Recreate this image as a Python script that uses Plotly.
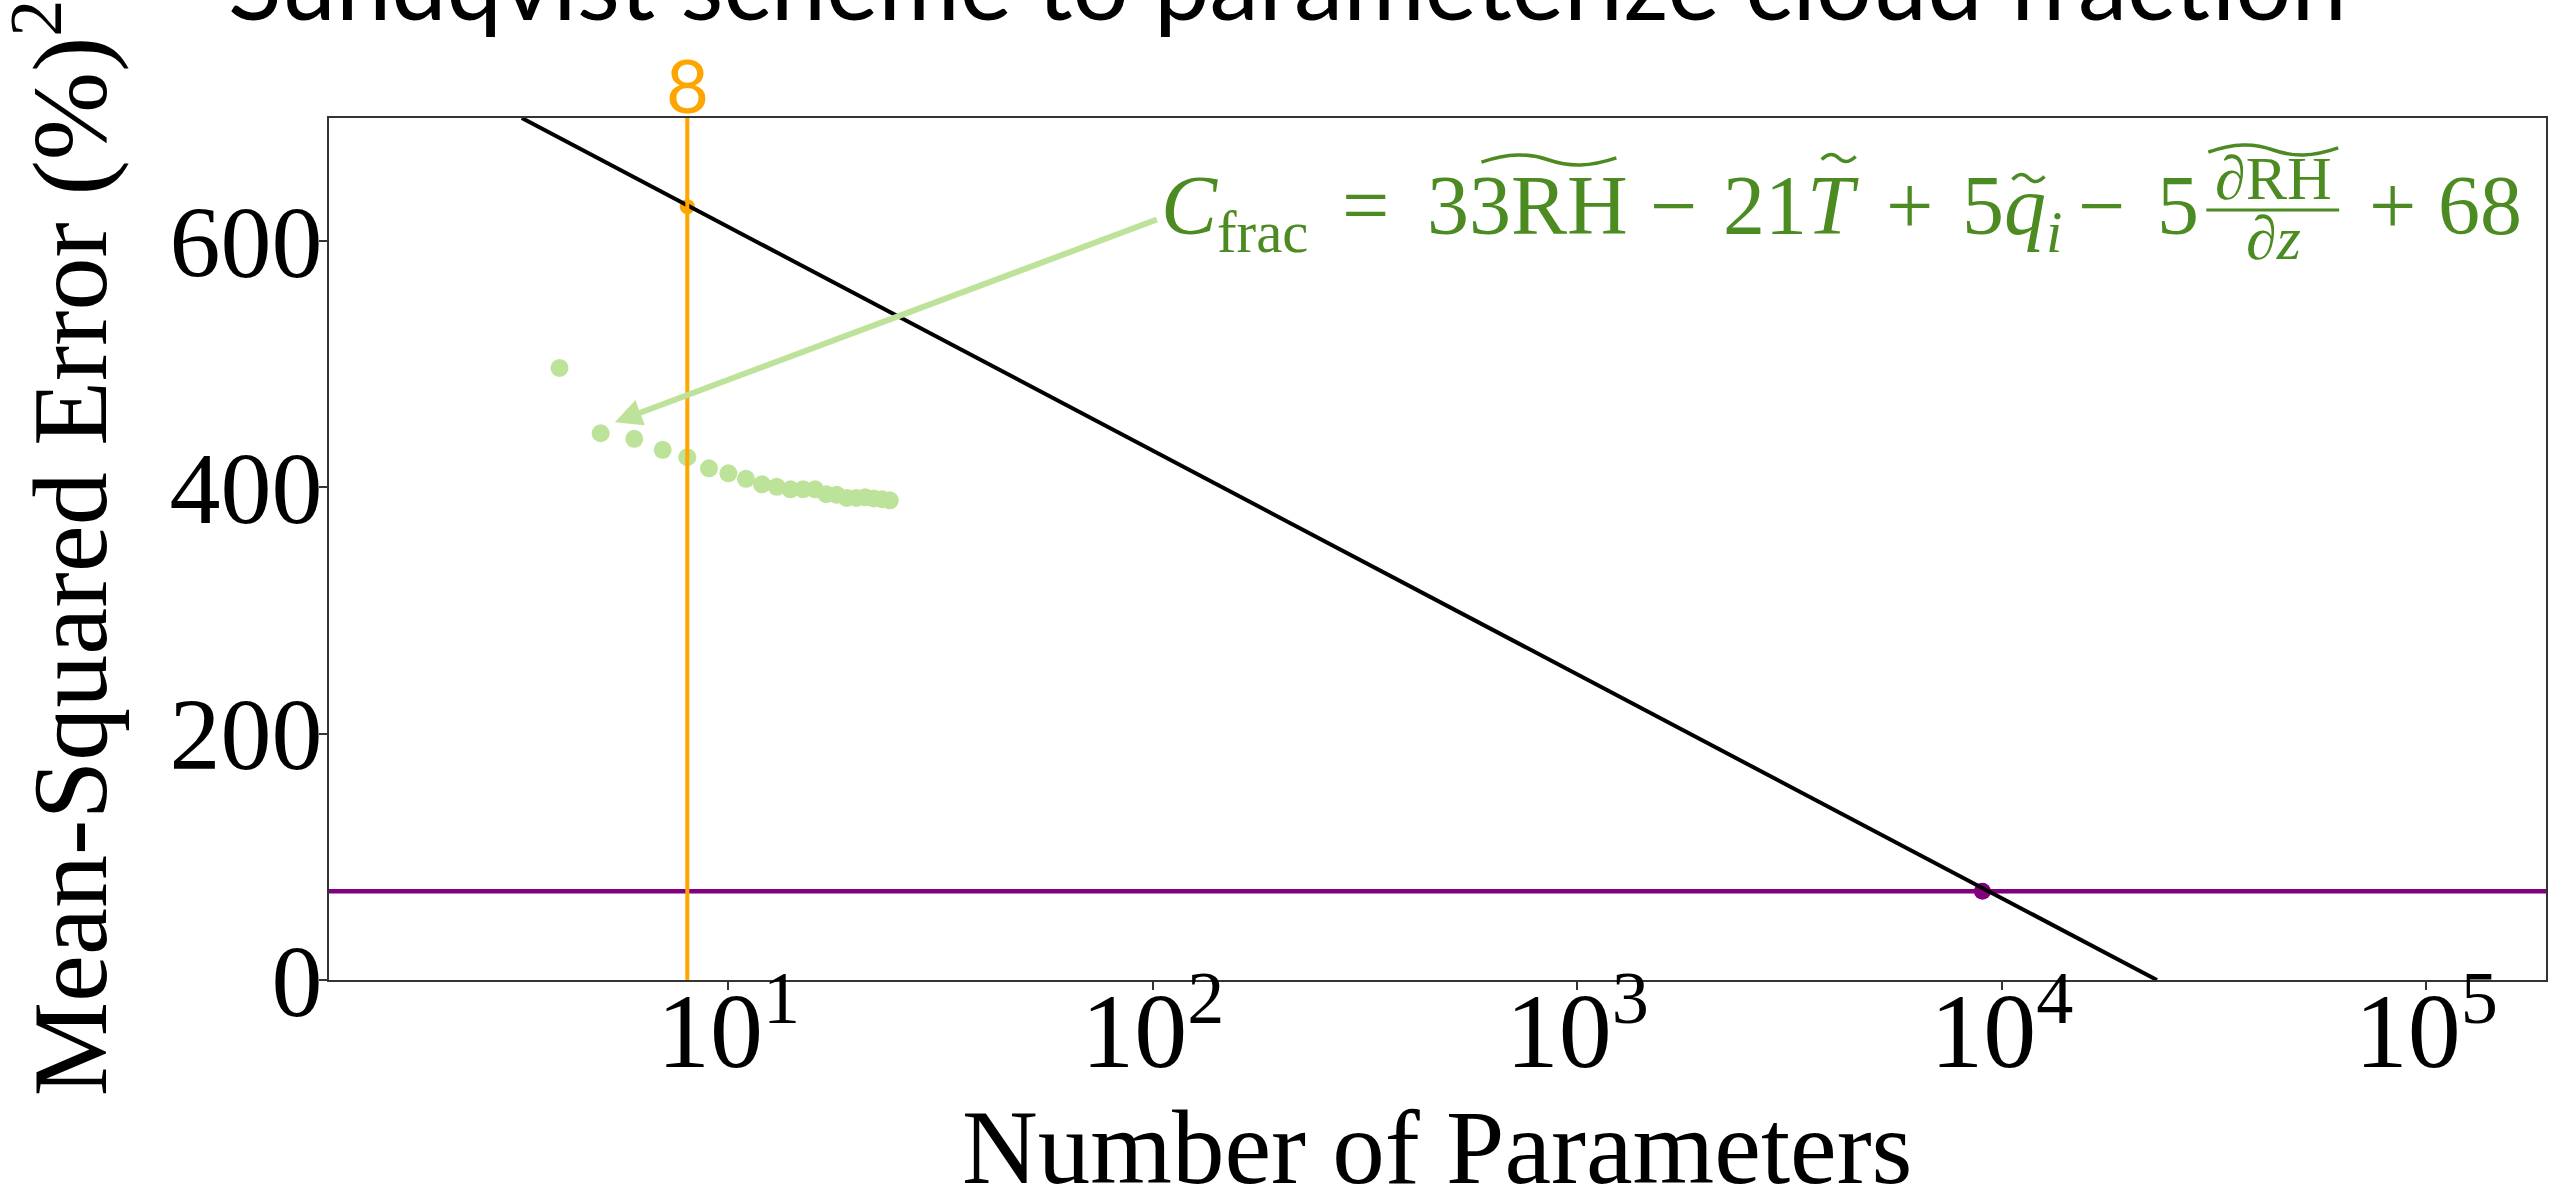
import numpy as np
import plotly.graph_objects as go

# ---------------- data ----------------
n_params = [4, 5, 6, 7, 8, 9, 10, 11, 12, 13, 14, 15, 16, 17, 18, 19, 20, 21, 22, 23, 24]
mse_values = [497, 444, 439.5, 430.5, 424.5, 415.5, 411.5, 407, 402.5, 400.5, 398.5,
              398.5, 398.5, 394.5, 394, 391.5, 391.5, 392, 391, 390.5, 389.5]

fit_x = [3.26, 23200]
fit_y = [700, 0]

chosen_n = 8
chosen_mse = 628

nn_n = 9000
nn_mse = 72

x_range_log = [0.059, 5.282]
y_range = [0, 700]
y_ticks = [0, 200, 400, 600]
x_ticks = [10, 100, 1000, 10000, 100000]
x_ticklabels = ["10<sup>1</sup>", "10<sup>2</sup>", "10<sup>3</sup>", "10<sup>4</sup>", "10<sup>5</sup>"]

arrow_tip = (5.4, 453)
arrow_tail = (103, 618)

# ---------------- styling ----------------
W, H = 2552, 1192
L, R, T, B = 329, 2548, 118, 980
GREEN_DOT = "#bde39b"
GREEN_TXT = "#4c8a22"
ORANGE = "#ffa500"
PURPLE = "#800080"
SERIF = "Liberation Serif"


def px(x):
    return (x - L) / (R - L)


def py(y):
    return (B - y) / (B - T)


fig = go.Figure()

fig.add_trace(go.Scatter(x=n_params, y=mse_values, mode="markers",
                         marker=dict(size=18, color=GREEN_DOT, line=dict(width=0)),
                         showlegend=False))
fig.add_trace(go.Scatter(x=[nn_n], y=[nn_mse], mode="markers",
                         marker=dict(size=17, color=PURPLE, line=dict(width=0)), showlegend=False))
fig.add_trace(go.Scatter(x=[chosen_n], y=[chosen_mse], mode="markers",
                         marker=dict(size=15, color=ORANGE, line=dict(width=0)), showlegend=False))
fig.add_trace(go.Scatter(x=[10 ** x_range_log[0], 10 ** x_range_log[1]], y=[nn_mse, nn_mse],
                         mode="lines", line=dict(color=PURPLE, width=4.5), showlegend=False))
fig.add_trace(go.Scatter(x=fit_x, y=fit_y, mode="lines",
                         line=dict(color="black", width=4), showlegend=False))
fig.add_trace(go.Scatter(x=[chosen_n, chosen_n], y=y_range, mode="lines",
                         line=dict(color=ORANGE, width=4), showlegend=False))

annotations = []

# arrow
annotations.append(dict(x=np.log10(arrow_tip[0]), y=arrow_tip[1], xref="x", yref="y",
                        ax=np.log10(arrow_tail[0]), ay=arrow_tail[1], axref="x", ayref="y",
                        text="", showarrow=True, arrowhead=2, arrowsize=0.9, arrowwidth=6,
                        arrowcolor=GREEN_DOT, standoff=0, startstandoff=0))

# title (clipped at top)
annotations.append(dict(x=px(1288), y=py(-19), xref="paper", yref="paper",
                        text="Sundqvist scheme to parameterize cloud fraction",
                        showarrow=False, xanchor="center", yanchor="middle",
                        font=dict(family="Lato", size=99, color="black")))

# orange "8"
annotations.append(dict(x=np.log10(chosen_n), y=py(84), xref="x", yref="paper",
                        text=str(chosen_n), showarrow=False, xanchor="center", yanchor="middle",
                        font=dict(family="Lato", size=74, color=ORANGE)))

# axis titles
annotations.append(dict(x=px(62), y=py(548), xref="paper", yref="paper",
                        text="Mean-Squared Error (%)<sup>2</sup>", textangle=-90,
                        showarrow=False, xanchor="center", yanchor="middle",
                        font=dict(family=SERIF, size=106, color="black")))
annotations.append(dict(x=0.5, y=py(1147), xref="paper", yref="paper",
                        text="Number of Parameters", showarrow=False,
                        xanchor="center", yanchor="middle",
                        font=dict(family=SERIF, size=105, color="black")))

# formula pieces
FS = 84
top_main = 232 - 0.891 * FS
pieces = [
    ("<i>C</i><sub>frac</sub>", 1160, "left"),
    ("=", 1366, "center"),
    ("33RH", 1426, "left"),
    ("\u2212", 1675, "center"),
    ("21<i>T</i>", 1722, "left"),
    ("+", 1911, "center"),
    ("5<i>q</i><sub><i>i</i></sub>", 1961, "left"),
    ("\u2212", 2103, "center"),
    ("5", 2180, "center"),
    ("+", 2394, "center"),
    ("68", 2482, "center"),
]
for txt, xx, anc in pieces:
    annotations.append(dict(x=px(xx), y=py(top_main), xref="paper", yref="paper",
                            text=txt, showarrow=False, xanchor=anc, yanchor="top",
                            font=dict(family=SERIF, size=FS, color=GREEN_TXT)))
FF = 62
annotations.append(dict(x=px(2275), y=py(178), xref="paper", yref="paper", text="\u2202RH",
                        showarrow=False, xanchor="center", yanchor="middle",
                        font=dict(family=SERIF, size=FF, color=GREEN_TXT)))
annotations.append(dict(x=px(2275), y=py(238), xref="paper", yref="paper", text="\u2202<i>z</i>",
                        showarrow=False, xanchor="center", yanchor="middle",
                        font=dict(family=SERIF, size=FF, color=GREEN_TXT)))

shapes = [dict(type="line", xref="paper", yref="paper", x0=px(2208), x1=px(2341),
               y0=py(210), y1=py(210), line=dict(color=GREEN_TXT, width=3))]


def tilde(xc, yc, w, amp):
    x0, x1 = xc - w / 2, xc + w / 2
    p = (f"M {px(x0)},{py(yc + amp * 0.3)} "
         f"C {px(x0 + w * 0.2)},{py(yc - amp)} {px(x0 + w * 0.35)},{py(yc - amp)} {px(xc)},{py(yc)} "
         f"C {px(x1 - w * 0.35)},{py(yc + amp)} {px(x1 - w * 0.2)},{py(yc + amp)} {px(x1)},{py(yc - amp * 0.3)}")
    return dict(type="path", xref="paper", yref="paper", path=p,
                line=dict(color=GREEN_TXT, width=3.5))


shapes += [tilde(1550, 160, 135, 7), tilde(1840, 158, 34, 5),
           tilde(2030, 178, 32, 5), tilde(2275, 150, 130, 7)]

fig.update_layout(
    width=W, height=H, autosize=False,
    margin=dict(l=L, r=W - R, t=T, b=H - B, pad=0),
    paper_bgcolor="white", plot_bgcolor="white",
    showlegend=False,
    annotations=annotations, shapes=shapes,
    xaxis=dict(type="log", range=x_range_log, tickvals=x_ticks, ticktext=x_ticklabels,
               ticks="outside", ticklen=8, tickwidth=1.5, tickcolor="#333",
               showgrid=False, zeroline=False, showline=True, linecolor="#333",
               linewidth=2, mirror=True, ticklabelstandoff=-50,
               tickfont=dict(family=SERIF, size=106, color="black")),
    yaxis=dict(range=y_range, tickvals=y_ticks,
               ticks="outside", ticklen=8, tickwidth=1.5, tickcolor="#333",
               showgrid=False, zeroline=False, showline=True, linecolor="#333",
               linewidth=2, mirror=True, ticklabelstandoff=-24,
               tickfont=dict(family=SERIF, size=102, color="black")),
)

fig.write_html("out.html")
